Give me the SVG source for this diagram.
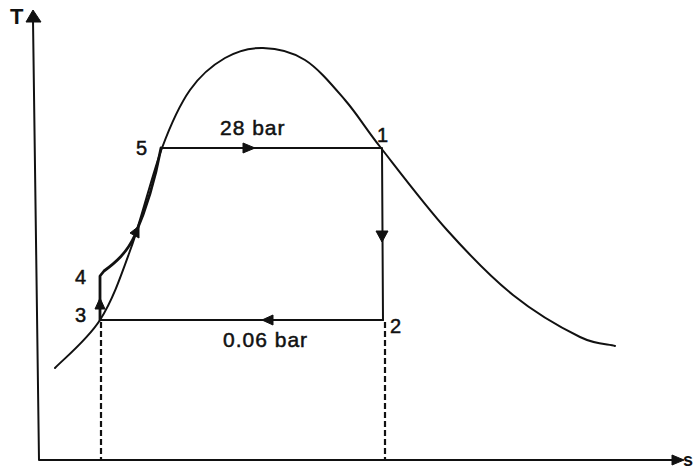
<svg xmlns="http://www.w3.org/2000/svg" width="693" height="470" viewBox="0 0 693 470">
<style>
.ln{fill:none;stroke:#111;stroke-width:2;stroke-linecap:round;stroke-linejoin:round}
.thk{fill:none;stroke:#111;stroke-width:2.8;stroke-linecap:round;stroke-linejoin:round}
.dash{fill:none;stroke:#111;stroke-width:2.2;stroke-dasharray:6 3}
.ah{fill:#111;stroke:#111;stroke-width:1;stroke-linejoin:round}
.lbl{font-family:"Liberation Sans",Arial,sans-serif;font-size:20px;fill:#111;stroke:#111;stroke-width:0.5}
.bar{font-family:"Liberation Sans",Arial,sans-serif;font-size:21px;letter-spacing:1px;fill:#111;stroke:#111;stroke-width:0.5}
.ax{font-family:"Liberation Sans",Arial,sans-serif;font-size:22px;font-weight:bold;fill:#111}
</style>
<rect width="693" height="470" fill="#fff"/>
<g id="axes">
<path class="ln" d="M33,20 L39,460 L675,460"/>
<polygon class="ah" points="33,10 26,22 41,22"/>
<polygon class="ah" points="684,460 672,455 672,465"/>
<text class="ax" x="10" y="24">T</text>
<text class="ax" x="683" y="466" style="font-size:18px">s</text>
</g>
<g id="dome">
<path class="ln" d="M55,368 C62.5,360 87.3,340 100,320 C112.7,300 120.7,276.7 131,248 C141.3,219.3 152.2,174.3 162,148 C171.8,121.7 179.5,105 190,90 C200.5,75 212.8,65 225,58 C237.2,51 249.7,47.7 263,48 C276.3,48.3 291.3,51.3 305,60 C318.7,68.7 332.3,85.3 345,100 C357.7,114.7 364,126.3 381,148 C398,169.7 425,205.5 447,230 C469,254.5 490.8,277.2 513,295 C535.2,312.8 563,328.7 580,337 C597,345.3 609.2,343.7 615,346"/>
</g>
<g id="connectors">
<path class="ln" d="M162,148 L381,148"/>
<polygon class="ah" points="255,148 243,143 243,153"/>
<path class="ln" d="M382,148 L383,320"/>
<polygon class="ah" points="382,242 376,231 388,231"/>
<path class="ln" d="M383,320 L100,320"/>
<polygon class="ah" points="262,320 273,315 273,325"/>
<path class="thk" d="M100,320 L100,276 L104,271 C115,263 127,253 135,235 C145,212 155,180 161,148"/>
<polygon class="ah" points="100,298 95,309 105,309"/>
<polygon class="ah" points="139,226 130,233 139,238"/>
<path class="dash" d="M101,322 L101,459"/>
<path class="dash" d="M385,322 L385,459"/>
</g>
<g id="p1"><text class="lbl" x="377" y="142">1</text></g>
<g id="p2"><text class="lbl" x="390" y="333">2</text></g>
<g id="p3"><text class="lbl" x="75" y="322">3</text></g>
<g id="p4"><text class="lbl" x="75" y="284">4</text></g>
<g id="p5"><text class="lbl" x="136" y="155">5</text></g>
<g id="labels">
<text class="bar" x="220" y="135">28 bar</text>
<text class="bar" x="223" y="347">0.06 bar</text>
</g>
</svg>
